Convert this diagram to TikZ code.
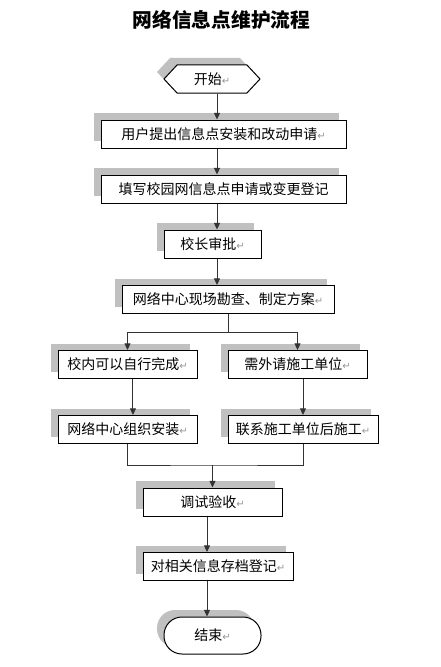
\documentclass[tikz,border=0pt]{standalone}
\usepackage{fontspec}
\newfontfamily\cjk{Noto Sans CJK SC}
\newfontfamily\symfont{DejaVu Sans}
\usetikzlibrary{arrows.meta,shapes.symbols}

\definecolor{shadowgray}{RGB}{192,192,192}
\definecolor{markgray}{RGB}{150,150,150}
% paragraph mark after the box texts
\newcommand{\parmark}{{\symfont\fontsize{7.5}{7.5}\selectfont\textcolor{markgray}{↵}}}

\tikzset{every picture/.style={line width=0.75pt}}
\tikzset{
  flowbox/.style={draw=black, fill=white, minimum height=21pt, inner sep=0pt,
    font=\cjk\fontsize{10.5}{12}\selectfont,
    preaction={fill=shadowgray, draw=none, transform canvas={xshift=-5.25pt,yshift=5.25pt}}},
  flowarrow/.style={draw=black!80, -{Triangle[length=5pt,width=4.5pt]}},
  flowline/.style={draw=black!80},
}

\begin{document}
\begin{tikzpicture}[x=0.75pt,y=0.75pt,yscale=-1,xscale=1]
\useasboundingbox (0,0) rectangle (440,667);

% Title
\node (title) at (221.5,19.5) {\cjk\bfseries\fontsize{14.8}{16}\selectfont 网络信息点维护流程};

% Start / end
\node [flowbox, shape=signal, signal to=west and east, signal pointer angle=94, minimum width=72pt] (start) at (212,79) {开始\parmark};
\node [flowbox, rounded corners=13.5pt, minimum width=72.75pt, minimum height=27.75pt] (end) at (212.5,635.5) {结束\parmark};

% Boxes
\node [flowbox, minimum width=183.75pt] (apply) at (223.5,134) {用户提出信息点安装和改动申请\parmark};
\node [flowbox, minimum width=183.75pt] (register) at (223.5,189) {填写校园网信息点申请或变更登记};
\node [flowbox, minimum width=72.75pt] (approve) at (212.5,244) {校长审批\parmark};
\node [flowbox, minimum width=159pt] (survey) at (228,299.5) {网络中心现场勘查、制定方案\parmark};
\node [flowbox, minimum width=104.25pt] (inside) at (127.5,364.5) {校内可以自行完成\parmark};
\node [flowbox, minimum width=104.25pt] (outside) at (297.5,364.5) {需外请施工单位\parmark};
\node [flowbox, minimum width=104.25pt] (install) at (127.5,429.5) {网络中心组织安装\parmark};
\node [flowbox, minimum width=112.5pt] (contract) at (303,429.5) {联系施工单位后施工\parmark};
\node [flowbox, minimum width=104.25pt] (check) at (212.5,502) {调试验收\parmark};
\node [flowbox, minimum width=112.5pt] (archive) at (218,566.5) {对相关信息存档登记\parmark};

% Helper points
\coordinate (spine) at (217,0);
\coordinate (spinelow) at (207,0);
\coordinate (split) at (228,332);
\coordinate (join) at (212.5,465);

% Connectors
\draw [flowarrow] (start.south -| spine) -- (apply.north -| spine);
\draw [flowarrow] (apply.south -| spine) -- (register.north -| spine);
\draw [flowarrow] (register.south -| spine) -- (approve.north -| spine);
\draw [flowarrow] (approve.south -| spine) -- (survey.north -| spine);
\draw [flowline] (survey.south) -- (split);
\draw [flowarrow] (split) -| (inside.north);
\draw [flowarrow] (split) -| (outside.north);
\draw [flowarrow] ([xshift=4.1pt]inside.south) -- ([xshift=4.1pt]install.north);
\draw [flowarrow] (outside.south -| contract.north) -- (contract.north);
\draw [flowline] (install.south) |- (join) -| (contract.south);
\draw [flowarrow] (join) -- (check.north);
\draw [flowarrow] (check.south -| spinelow) -- (archive.north -| spinelow);
\draw [flowarrow] (archive.south -| spinelow) -- (end.north -| spinelow);

\end{tikzpicture}
\end{document}
